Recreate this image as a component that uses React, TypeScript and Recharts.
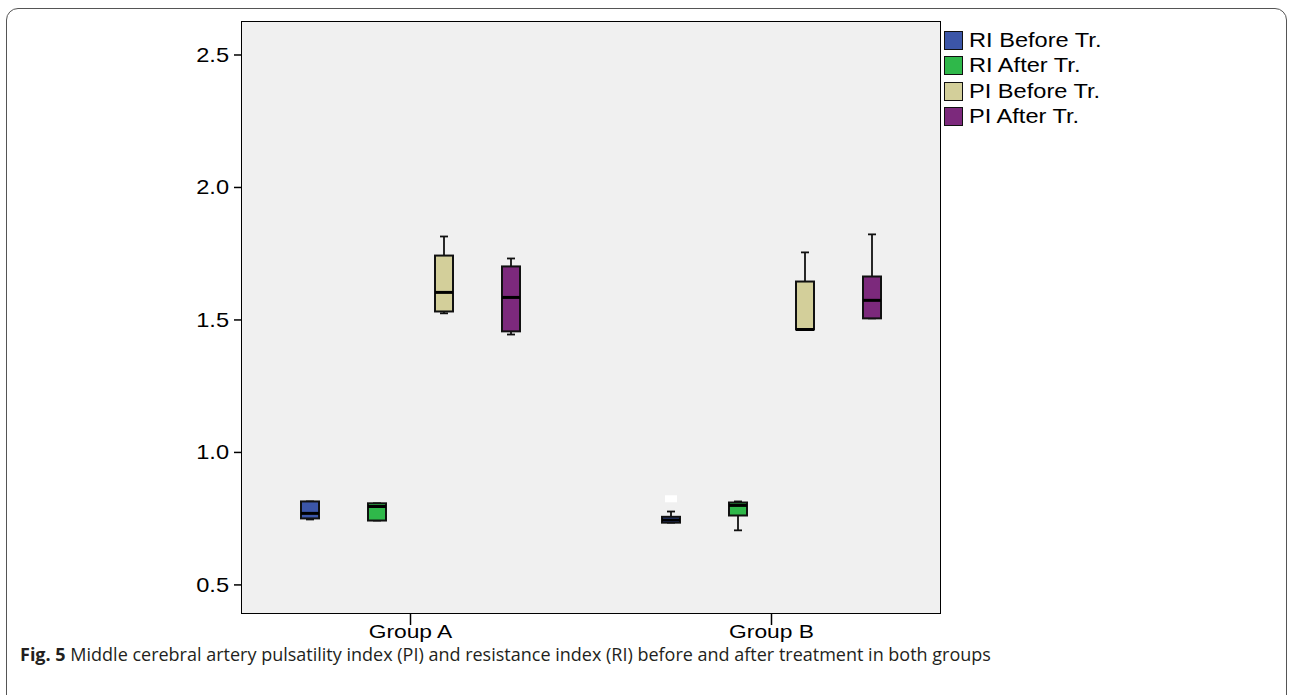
import { ComposedChart, Bar, XAxis, YAxis, CartesianGrid, Legend } from 'recharts';

// five-number summaries per group: [min, q1, median, q3, max]
const groups = ['Group A', 'Group B'];
const seriesNames = ['RI Before Tr.', 'RI After Tr.', 'PI Before Tr.', 'PI After Tr.'];
const seriesColors = ['#3c56a8', '#2fb84a', '#d3cf9a', '#7c297c'];

const riBefore = [
  [0.747, 0.751, 0.77, 0.815, 0.815],
  [0.735, 0.735, 0.745, 0.757, 0.777],
];
const riAfter = [
  [0.743, 0.743, 0.796, 0.808, 0.808],
  [0.706, 0.762, 0.8, 0.811, 0.815],
];
const piBefore = [
  [1.525, 1.532, 1.604, 1.743, 1.815],
  [1.464, 1.464, 1.464, 1.645, 1.755],
];
const piAfter = [
  [1.445, 1.457, 1.585, 1.702, 1.732],
  [1.506, 1.506, 1.574, 1.664, 1.823],
];
const riBeforeOutliers = [null, 0.825];

const yTicks = [0.5, 1.0, 1.5, 2.0, 2.5];

const allSeries = [riBefore, riAfter, piBefore, piAfter];
const chartData = groups.map((g, gi) => ({
  group: g,
  stats: allSeries.map((s) => s[gi]),
  outlier: riBeforeOutliers[gi],
}));

const FONT = 'Liberation Sans, Arial, sans-serif';

function makeBoxShape(si: number) {
  return (props: any) => {
    const { x, y, width, height, payload } = props;
    const [mn, q1, med, q3, mx] = payload.stats[si];
    const span = mx - mn;
    const py = (v: number) => y + ((mx - v) / span) * height;
    const cx = x + width / 2;
    const cap = 4;
    const outlier = si === 0 ? payload.outlier : null;
    return (
      <g>
        <line x1={cx} x2={cx} y1={py(mx)} y2={py(q3)} stroke="#111" strokeWidth={1.8} />
        <line x1={cx} x2={cx} y1={py(q1)} y2={py(mn)} stroke="#111" strokeWidth={1.8} />
        <line x1={cx - cap} x2={cx + cap} y1={py(mx)} y2={py(mx)} stroke="#111" strokeWidth={1.8} />
        <line x1={cx - cap} x2={cx + cap} y1={py(mn)} y2={py(mn)} stroke="#111" strokeWidth={1.8} />
        <rect
          x={x}
          y={py(q3)}
          width={width}
          height={Math.max(py(q1) - py(q3), 1)}
          fill={seriesColors[si]}
          stroke="#111"
          strokeWidth={2}
        />
        <line x1={x} x2={x + width} y1={py(med)} y2={py(med)} stroke="#000" strokeWidth={3} />
        {outlier != null && (
          <rect x={cx - 6} y={py(outlier) - 3.5} width={12} height={7} fill="#fff" />
        )}
      </g>
    );
  };
}

// SPSS text looks horizontally stretched, so widen the glyphs a bit
function YTick(props: any) {
  const { x, y, payload } = props;
  return (
    <text
      transform={`translate(${x - 3},${y}) scale(1.18,1)`}
      textAnchor="end"
      dominantBaseline="central"
      fontSize={20}
      fontFamily={FONT}
      fill="#000"
    >
      {payload.value.toFixed(1)}
    </text>
  );
}

function XTick(props: any) {
  const { x, y, payload } = props;
  return (
    <text
      transform={`translate(${x},${y + 11}) scale(1.2,1)`}
      textAnchor="middle"
      fontSize={19}
      fontFamily={FONT}
      fill="#000"
    >
      {payload.value}
    </text>
  );
}

function renderLegend(props: any) {
  const items = [...props.payload].sort(
    (a: any, b: any) => seriesNames.indexOf(a.value) - seriesNames.indexOf(b.value)
  );
  return (
    <div>
      {items.map((entry: any) => (
        <div key={entry.value} style={{ display: 'flex', alignItems: 'center', height: 25.3 }}>
          <span
            style={{
              display: 'inline-block',
              width: 17,
              height: 17,
              background: entry.color,
              border: '1px solid #111',
              marginRight: 6,
              flex: 'none',
            }}
          />
          <span
            style={{
              fontSize: 20,
              color: '#000',
              fontFamily: FONT,
              display: 'inline-block',
              transform: 'scaleX(1.18)',
              transformOrigin: 'left center',
              whiteSpace: 'nowrap',
            }}
          >
            {entry.value}
          </span>
        </div>
      ))}
    </div>
  );
}

export default function App() {
  return (
    <div
      style={{
        position: 'absolute',
        left: 0,
        top: 0,
        width: 1292,
        height: 695,
        background: '#fff',
        overflow: 'hidden',
        fontFamily: FONT,
      }}
    >
      <div
        style={{
          position: 'absolute',
          left: 6,
          top: 8,
          width: 1279,
          height: 700,
          border: '1px solid #555',
          borderRadius: 12,
        }}
      />
      <div style={{ position: 'absolute', left: 0, top: 0 }}>
        <ComposedChart
          width={1292}
          height={695}
          data={chartData}
          margin={{ top: 22, left: 182, right: 352, bottom: 52 }}
          barGap={49}
        >
          <CartesianGrid fill="#f0f0f0" horizontal={false} vertical={false} />
          <XAxis
            dataKey="group"
            padding={{ left: -12, right: -12 }}
            axisLine={false}
            tickLine={{ stroke: '#000', strokeWidth: 1.5 }}
            tickSize={12}
            height={30}
            tick={<XTick />}
          />
          <YAxis
            type="number"
            domain={[0.394, 2.6245]}
            allowDataOverflow
            ticks={yTicks}
            width={60}
            tickSize={8}
            axisLine={false}
            tickLine={{ stroke: '#000', strokeWidth: 1.5 }}
            tick={<YTick />}
          />
          {seriesNames.map((name, si) => (
            <Bar
              key={name}
              name={name}
              dataKey={(d: any) => [d.stats[si][0], d.stats[si][4]]}
              fill={seriesColors[si]}
              barSize={18}
              shape={makeBoxShape(si)}
              isAnimationActive={false}
            />
          ))}
          <Legend
            content={renderLegend}
            layout="vertical"
            verticalAlign="middle"
            align="center"
            wrapperStyle={{ left: 944, top: 28, width: 250 }}
          />
        </ComposedChart>
      </div>
      {/* plot frame */}
      <div
        style={{
          position: 'absolute',
          left: 241,
          top: 21,
          width: 700,
          height: 593,
          border: '1.5px solid #000',
          boxSizing: 'border-box',
          pointerEvents: 'none',
        }}
      />
      <div
        style={{
          position: 'absolute',
          left: 20,
          top: 643,
          fontSize: 18,
          lineHeight: '22px',
          color: '#231f20',
          fontFamily: '"Open Sans", sans-serif',
          whiteSpace: 'nowrap',
        }}
      >
        <b>Fig. 5</b> Middle cerebral artery pulsatility index (PI) and resistance index (RI) before and after
        treatment in both groups
      </div>
    </div>
  );
}
